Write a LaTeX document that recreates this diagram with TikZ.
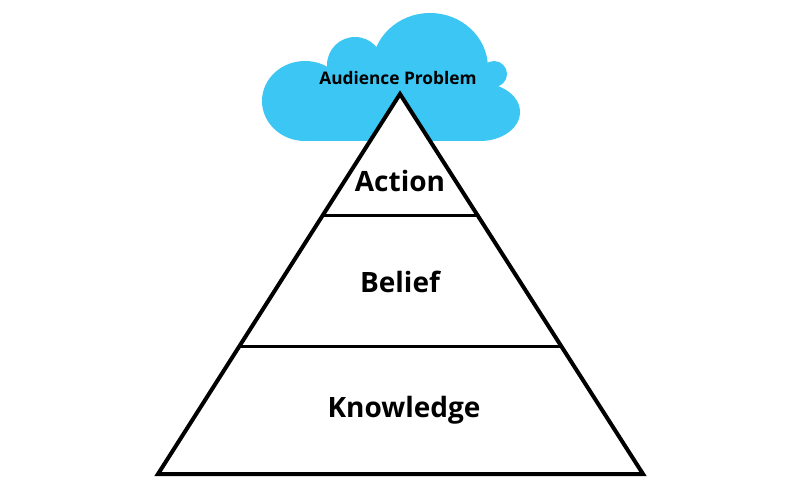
\documentclass[tikz,border=0pt]{standalone}
\usepackage{fontspec}
\setmainfont{Open Sans}
\usetikzlibrary{calc}
\definecolor{cloudblue}{HTML}{3BC6F3}
\tikzset{
  cloudpart/.style={fill=cloudblue, draw=none},
  layer/.style={font=\fontsize{28}{30}\selectfont\bfseries, text=black, inner sep=0pt},
  cloudlabel/.style={font=\fontsize{17.3}{20}\selectfont\bfseries, text=black, inner sep=0pt},
  pyr/.style={draw=black, line width=4pt, fill=white},
  divider/.style={draw=black, line width=3.5pt}
}
\begin{document}
\begin{tikzpicture}[x=1pt,y=-1pt]
\useasboundingbox[fill=white] (0,0) rectangle (800,500);
% cloud
\fill[cloudpart] (305,101) ellipse [x radius=43, y radius=40];
\fill[cloudpart] (355,65) circle [radius=28];
\fill[cloudpart] (430,68) ellipse [x radius=58, y radius=55];
\fill[cloudpart] (494,74) circle [radius=13];
\fill[cloudpart] (480,112) ellipse [x radius=40, y radius=29];
\fill[cloudpart] (300,75) rectangle (485,141);
% pyramid
\coordinate (apex) at (400,94);
\coordinate (bl) at (158,474);
\coordinate (br) at (643,474);
\draw[pyr] (apex) -- (bl) -- (br) -- cycle;
\coordinate (d1l) at ($(apex)!0.3202!(bl)$);
\coordinate (d1r) at ($(apex)!0.3202!(br)$);
\coordinate (d2l) at ($(apex)!0.664!(bl)$);
\coordinate (d2r) at ($(apex)!0.664!(br)$);
\draw[divider] (d1l) -- (d1r);
\draw[divider] (d2l) -- (d2r);
% labels
\node[cloudlabel, anchor=base] (aud) at (398,85) {Audience Problem};
\node[layer, anchor=base] (act) at (400,191) {Action};
\node[layer, anchor=base] (bel) at (400,292) {Belief};
\node[layer, anchor=base] (kno) at (404,417) {Knowledge};
\end{tikzpicture}
\end{document}
